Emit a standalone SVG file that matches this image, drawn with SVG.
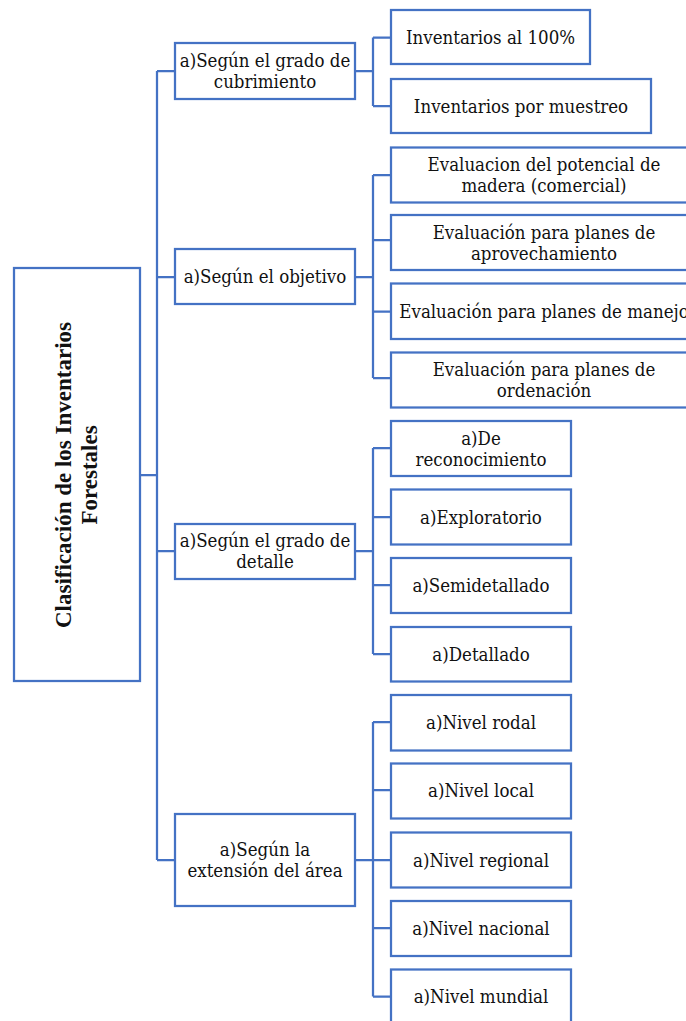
<svg xmlns="http://www.w3.org/2000/svg" width="686" height="1021" viewBox="0 0 686 1021">
<style>
.box{fill:#fff;stroke:#4472C4;stroke-width:2.25}
.con{fill:none;stroke:#4472C4;stroke-width:2.25}
.t{font-family:'DejaVu Serif Condensed','DejaVu Serif',serif;font-stretch:condensed;font-size:18.5px;fill:#111;text-anchor:middle}
.root{font-family:'Liberation Serif','Times New Roman',serif;font-stretch:normal;font-weight:bold;font-size:23px}
</style>
<rect width="686" height="1021" fill="#fff"/>
<g id="connectors" class="con">
<path d="M140 475H157M157 71V860M157 71H175M157 277H175M157 551H175M157 860H175"/>
<path d="M355 71H373M373 37.5V106M373 37.5H391M373 106H391"/>
<path d="M355 277H373M373 175V378M373 175H391M373 240H391M373 311.5H391M373 378H391"/>
<path d="M355 551H373M373 448V654M373 448H391M373 517H391M373 585H391M373 654H391"/>
<path d="M355 860H373M373 722V996.5M373 722H391M373 790H391M373 860H391M373 928H391M373 996.5H391"/>
</g>
<g class="t">
<g id="root"><rect class="box" x="14" y="268" width="126" height="413"/>
<text class="root" transform="translate(71 475) rotate(-90)">Clasificación de los Inventarios</text>
<text class="root" transform="translate(97 475) rotate(-90)">Forestales</text></g>
<g id="l1-cubrimiento"><rect class="box" x="175" y="43" width="180" height="56"/>
<text x="265" y="67">a)Según el grado de</text><text x="265" y="88">cubrimiento</text></g>
<g id="l1-objetivo"><rect class="box" x="175" y="249" width="180" height="55"/>
<text x="265" y="283">a)Según el objetivo</text></g>
<g id="l1-detalle"><rect class="box" x="175" y="524" width="180" height="55"/>
<text x="265" y="547">a)Según el grado de</text><text x="265" y="568">detalle</text></g>
<g id="l1-extension"><rect class="box" x="175" y="814" width="180" height="92"/>
<text x="265" y="856">a)Según la</text><text x="265" y="877">extensión del área</text></g>
<g id="n-100"><rect class="box" x="391" y="10" width="199" height="54"/>
<text x="490.5" y="43.5">Inventarios al 100%</text></g>
<g id="n-muestreo"><rect class="box" x="391" y="79" width="260" height="54"/>
<text x="521" y="112.5">Inventarios por muestreo</text></g>
<g id="n-potencial"><rect class="box" x="391" y="147.5" width="306" height="55"/>
<text x="544" y="171">Evaluacion del potencial de</text><text x="544" y="192">madera (comercial)</text></g>
<g id="n-aprovechamiento"><rect class="box" x="391" y="215" width="306" height="55"/>
<text x="544" y="238.5">Evaluación para planes de</text><text x="544" y="259.5">aprovechamiento</text></g>
<g id="n-manejo"><rect class="box" x="391" y="283.5" width="306" height="55.5"/>
<text x="544" y="318">Evaluación para planes de manejo</text></g>
<g id="n-ordenacion"><rect class="box" x="391" y="352.5" width="306" height="55"/>
<text x="544" y="376">Evaluación para planes de</text><text x="544" y="397">ordenación</text></g>
<g id="n-reconocimiento"><rect class="box" x="391" y="421" width="180" height="55"/>
<text x="481" y="444.5">a)De</text><text x="481" y="465.5">reconocimiento</text></g>
<g id="n-exploratorio"><rect class="box" x="391" y="489.5" width="180" height="55"/>
<text x="481" y="523.5">a)Exploratorio</text></g>
<g id="n-semidetallado"><rect class="box" x="391" y="558" width="180" height="55"/>
<text x="481" y="591.5">a)Semidetallado</text></g>
<g id="n-detallado"><rect class="box" x="391" y="627" width="180" height="54.5"/>
<text x="481" y="660.5">a)Detallado</text></g>
<g id="n-rodal"><rect class="box" x="391" y="695" width="180" height="55.5"/>
<text x="481" y="729">a)Nivel rodal</text></g>
<g id="n-local"><rect class="box" x="391" y="763.5" width="180" height="55"/>
<text x="481" y="797">a)Nivel local</text></g>
<g id="n-regional"><rect class="box" x="391" y="832.5" width="180" height="55"/>
<text x="481" y="866.5">a)Nivel regional</text></g>
<g id="n-nacional"><rect class="box" x="391" y="901" width="180" height="55"/>
<text x="481" y="935">a)Nivel nacional</text></g>
<g id="n-mundial"><rect class="box" x="391" y="969.5" width="180" height="55"/>
<text x="481" y="1003">a)Nivel mundial</text></g>
</g>
</svg>
